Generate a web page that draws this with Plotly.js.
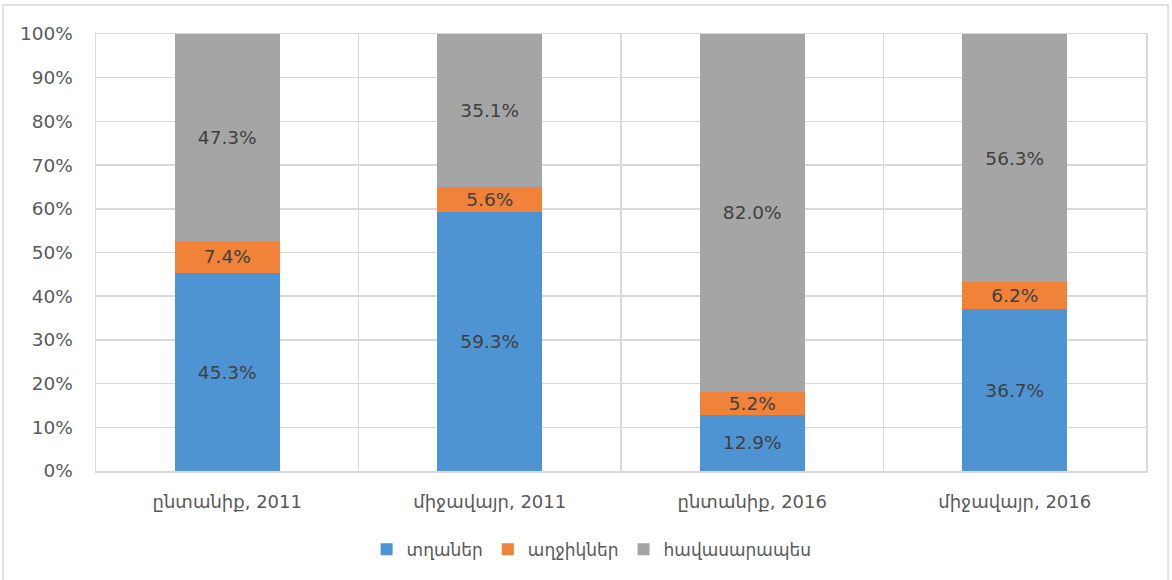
<!DOCTYPE html>
<html><head><meta charset="utf-8">
<script src="https://cdn.plot.ly/plotly-3.0.1.min.js"></script>
<style>html,body{margin:0;padding:0;background:#fff;}#chart{width:1172px;height:580px;}</style>
</head><body><div id="chart"></div>
<script>
const categories = ["ընտանիք, 2011", "միջավայր, 2011", "ընտանիք, 2016", "միջավայր, 2016"];
const seriesNames = ["տղաներ", "աղջիկներ", "հավասարապես"];
const boys = [45.3, 59.3, 12.9, 36.7];
const girls = [7.4, 5.6, 5.2, 6.2];
const equally = [47.3, 35.1, 82.0, 56.3];
const colors = ["#4e94d3", "#f0823a", "#a5a5a5"];
const FONT = "'DejaVu Sans', 'Noto Sans', sans-serif";

const vals = [boys, girls, equally];
const traces = vals.map((v, i) => ({
  type: "bar", name: seriesNames[i], x: categories, y: v,
  marker: {color: colors[i]}, width: 0.4,
  text: v.map(d => d.toFixed(1) + "%"), textposition: "inside", insidetextanchor: "middle",
  textfont: {family: FONT, size: 18.5, color: "#404040"}, constraintext: "none",
  hoverinfo: "skip"
}));

const layout = {
  width: 1172, height: 580, barmode: "stack", barnorm: "percent",
  margin: {l: 96, r: 26, t: 34, b: 107},
  paper_bgcolor: "#fff", plot_bgcolor: "#fff",
  font: {family: FONT, color: "#595959", size: 17},
  xaxis: {type: "category", tickson: "boundaries", showgrid: true, gridcolor: "#d9d9d9", gridwidth: 1.5,
    ticks: "", showline: true, mirror: true, linecolor: "#d9d9d9", linewidth: 1.5,
    tickfont: {size: 18, color: "#595959"}, ticklabelstandoff: 14},
  yaxis: {range: [0, 100], dtick: 10, ticksuffix: "%", showgrid: true, gridcolor: "#d9d9d9", gridwidth: 1.5,
    zeroline: false, showline: true, mirror: true, linecolor: "#d9d9d9", linewidth: 1.5,
    ticks: "", tickfont: {size: 18.5, color: "#595959"}, ticklabelstandoff: 18},
  showlegend: true,
  legend: {orientation: "h", x: 0.472, xanchor: "center", y: -0.18, yanchor: "middle",
    font: {size: 17, color: "#595959"}, itemwidth: 30, traceorder: "normal"},
  shapes: [
    {type: "rect", xref: "paper", yref: "paper", x0: -0.0886, x1: 1.021, y0: -0.3, y1: 1.0661,
     line: {color: "#d9d9d9", width: 1.5}, layer: "below"}
  ]
};
Plotly.newPlot("chart", traces, layout, {displayModeBar: false, staticPlot: true});
</script></body></html>
